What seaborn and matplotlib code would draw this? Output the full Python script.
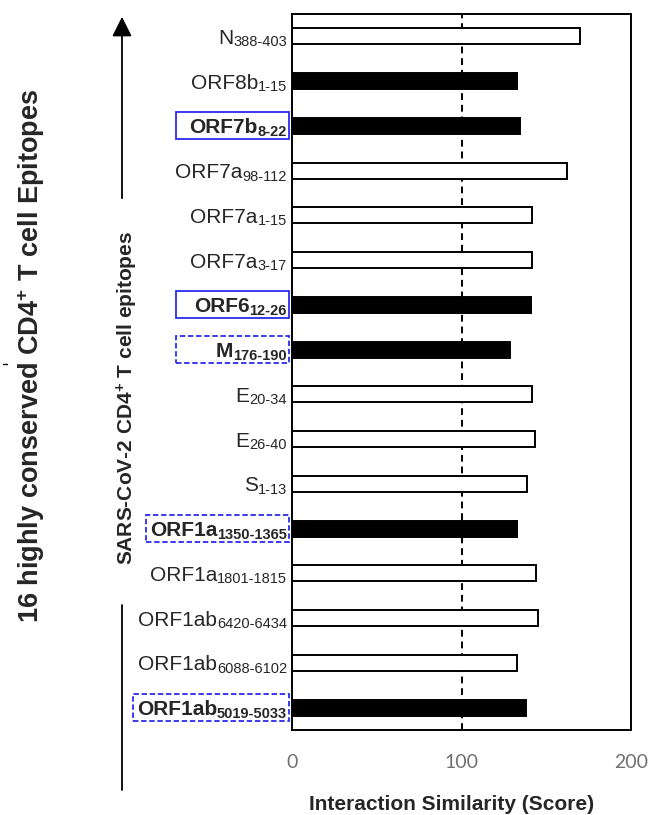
import numpy as np
import matplotlib
matplotlib.use("Agg")
import matplotlib.pyplot as plt
import seaborn as sns
import pandas as pd
from matplotlib.transforms import offset_copy
from matplotlib.patches import Rectangle, FancyArrowPatch
from matplotlib.lines import Line2D

# epitope labels (top to bottom), split in name + subscript range
names = ['N', 'ORF8b', 'ORF7b', 'ORF7a', 'ORF7a', 'ORF7a', 'ORF6', 'M',
         'E', 'E', 'S', 'ORF1a', 'ORF1a', 'ORF1ab', 'ORF1ab', 'ORF1ab']
ranges = ['388-403', '1-15', '8-22', '98-112', '1-15', '3-17', '12-26', '176-190',
          '20-34', '26-40', '1-13', '1350-1365', '1801-1815', '6420-6434', '6088-6102', '5019-5033']
scores = [170, 133, 134.5, 162.5, 141.5, 141.5, 141, 128.5,
          141.5, 143.5, 138.5, 133, 144, 145, 132.5, 138]
fill = ['white', 'black', 'black', 'white', 'white', 'white', 'black', 'black',
        'white', 'white', 'white', 'black', 'white', 'white', 'white', 'black']
bold = [False, False, True, False, False, False, True, True,
        False, False, False, True, False, False, False, True]
# label box: None, 'solid' or 'dashed'
boxes = [None, None, 'solid', None, None, None, 'solid', 'dashed',
         None, None, None, 'dashed', None, None, None, 'dashed']

cats = [f"{n}_{r}" for n, r in zip(names, ranges)]
df = pd.DataFrame({'epitope': cats, 'score': scores, 'fill': fill})

sns.set_style("white")
plt.rcParams['font.family'] = ['Liberation Sans', 'DejaVu Sans']
plt.rcParams['mathtext.default'] = 'regular'

W, H = 650, 815
fig = plt.figure(figsize=(W / 100, H / 100), dpi=100)
ax = fig.add_axes([292 / W, 1 - 730 / H, (631 - 292) / W, (730 - 14) / H])

sns.barplot(data=df, x='score', y='epitope', hue='fill', order=cats,
            palette={'white': 'white', 'black': 'black'}, dodge=False,
            width=0.36, edgecolor='black', linewidth=1.4, legend=False, ax=ax)

ax.axvline(100, color='black', ls=(0, (3.5, 2.5)), lw=1.4, zorder=0.5)
ax.set_xlim(0, 200)
ax.set_ylim(len(cats) - 0.5, -0.5)
ax.set_xticks([0, 100, 200])
ax.set_xticklabels(['0', '100', '200'], fontfamily='Lato', fontsize=14, color='#707070')
ax.tick_params(axis='x', length=0, pad=17)
ax.tick_params(axis='y', length=0, labelleft=False)
ax.set_xlabel('')
ax.set_ylabel('')
for s in ax.spines.values():
    s.set_visible(True)
    s.set_color('black')
    s.set_linewidth(1.4)

# y labels with subscripts, drawn by hand
renderer = fig.canvas.get_renderer()
ytr = ax.get_yaxis_transform()
for i in range(len(cats)):
    w = 'bold' if bold[i] else 'normal'
    t_sub = ax.text(0, i, ranges[i], ha='right', va='baseline', fontsize=10.5, fontweight=w,
                    transform=offset_copy(ytr, fig=fig, x=-5, y=-10, units='dots'))
    sb = t_sub.get_window_extent(renderer)
    t_main = ax.text(0, i, names[i], ha='right', va='baseline', fontsize=15, fontweight=w,
                     transform=offset_copy(ytr, fig=fig, x=-5 - sb.width, y=-7.5, units='dots'))
    if boxes[i]:
        mb = t_main.get_window_extent(renderer)
        yc = ytr.transform((0, i))[1]
        x0 = min(mb.x0 - 4, 176)
        x1 = 289
        rect = Rectangle((x0 / W, (yc - 13) / H), (x1 - x0) / W, 27 / H,
                         transform=fig.transFigure, fill=False, edgecolor='#2b2bf0',
                         lw=1.3, ls='-' if boxes[i] == 'solid' else (0, (3, 1.5)))
        fig.add_artist(rect)

# axis titles
fig.text(452 / W, 1 - 805 / H, 'Interaction Similarity (Score)', ha='center', va='center',
         fontsize=15, fontweight='bold')
fig.text(31 / W, 1 - 356 / H, '16 highly conserved CD4$^{+}$ T cell Epitopes', rotation=90,
         ha='center', va='center', fontsize=19.5, fontweight='bold')
fig.text(127 / W, 1 - 398 / H, 'SARS-CoV-2 CD4$^{+}$ T cell epitopes', rotation=90,
         ha='center', va='center', fontsize=15, fontweight='bold')

# arrow and bracket line on the left
fig.add_artist(FancyArrowPatch(
    (122 / W, 1 - 201 / H), (122 / W, 1 - 14 / H), transform=fig.transFigure,
    arrowstyle='-|>,head_length=0.8,head_width=0.4', mutation_scale=15,
    color='black', lw=1.3))
fig.add_artist(Line2D([122 / W, 122 / W], [1 - 605 / H, 1 - 790 / H],
                      transform=fig.transFigure, color='black', lw=1.3))
fig.add_artist(Line2D([3 / W, 7 / W], [1 - 364 / H, 1 - 364 / H],
                      transform=fig.transFigure, color='black', lw=1))

fig.savefig('out.png', dpi=100)
